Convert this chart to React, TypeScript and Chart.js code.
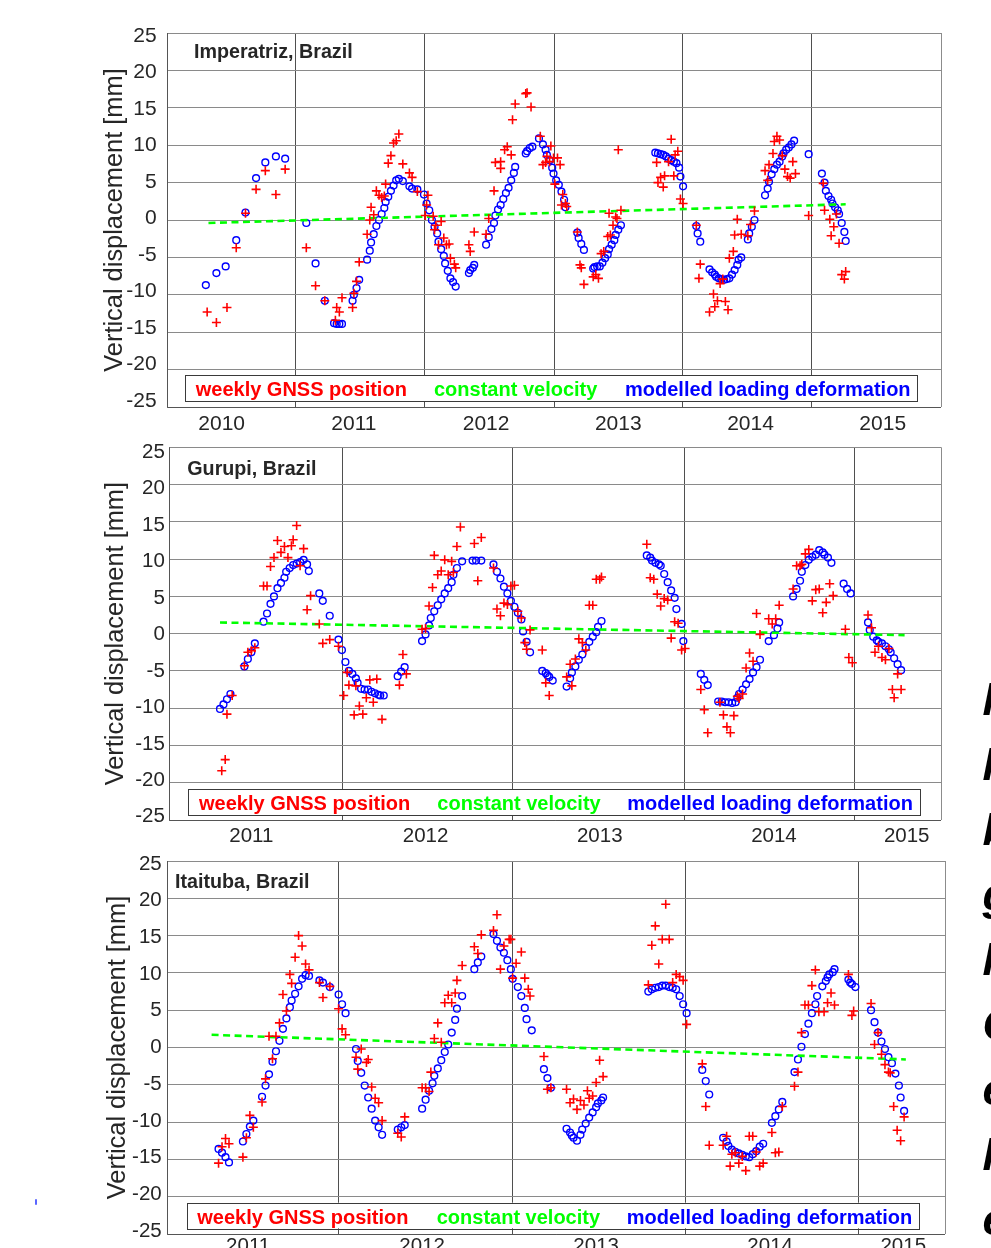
import React, { useEffect, useRef } from 'react';
import { Chart, registerables } from 'chart.js';

Chart.register(...registerables);

type Pt = [number, number];

// ---------------- Imperatriz ----------------
const impGnss: Pt[] = [
  [2009.89,-12.3],[2009.96,-13.7],[2010.04,-11.7],[2010.11,-3.7],[2010.18,0.9],[2010.26,4.1],[2010.33,6.6],[2010.41,3.4],[2010.48,6.8],
  [2010.64,-3.7],[2010.71,-8.8],[2010.78,-10.8],[2010.86,-13.4],[2010.87,-11.7],[2010.89,-12.3],[2010.91,-10.4],
  [2010.99,-11.7],[2011.00,-9.8],[2011.02,-8.2],[2011.04,-5.6],
  [2011.10,-1.9],[2011.12,0.0],[2011.13,1.7],[2011.15,0.7],[2011.17,3.9],[2011.19,3.3],[2011.21,3.0],[2011.23,3.2],[2011.24,4.8],[2011.26,7.6],[2011.28,8.6],[2011.30,10.3],[2011.32,10.6],[2011.34,11.5],[2011.37,7.5],[2011.42,6.3],[2011.44,5.7],[2011.48,3.8],[2011.54,0.6],[2011.55,2.0],[2011.56,3.3],[2011.60,0.5],[2011.61,-1.3],[2011.62,-0.7],[2011.64,-3.3],[2011.66,-0.2],[2011.68,-2.4],[2011.70,-3.3],[2011.72,-3.2],[2011.73,-5.1],[2011.76,-5.9],[2011.77,-6.4],
  [2011.87,-3.3],[2011.88,-4.2],[2011.91,-1.6],
  [2012.00,-1.9],[2012.02,0.2],[2012.06,3.9],[2012.07,7.7],[2012.11,7.8],[2012.11,6.9],[2012.14,9.4],[2012.16,9.8],[2012.19,8.7],[2012.20,13.4],[2012.22,15.5],
  [2012.30,16.9],[2012.31,17.0],[2012.34,15.1],[2012.41,11.2],[2012.43,7.4],[2012.45,7.7],[2012.46,8.5],[2012.48,7.8],[2012.49,9.9],[2012.51,8.3],[2012.52,4.8],[2012.54,8.3],[2012.56,7.4],[2012.57,2.0],[2012.58,3.4],[2012.60,2.2],[2012.61,1.8],
  [2012.69,-1.6],[2012.71,-6.0],[2012.72,-6.4],[2012.74,-8.6],
  [2012.81,-7.6],[2012.83,-7.3],[2012.85,-7.8],[2012.87,-4.5],[2012.89,-4.2],[2012.92,-2.2],[2012.93,0.9],[2012.94,-2.0],[2012.96,-0.7],[2012.98,0.4],[2012.99,0.2],[2013.00,9.4],[2013.02,1.3],
  [2013.29,7.7],[2013.30,5.0],[2013.32,5.7],[2013.34,4.4],[2013.35,5.9],[2013.38,7.8],[2013.40,10.8],[2013.42,5.9],[2013.43,8.7],[2013.45,9.2],[2013.47,2.8],[2013.49,2.2],
  [2013.59,-0.7],[2013.61,-7.8],[2013.62,-5.9],
  [2013.69,-12.3],[2013.72,-9.9],[2013.73,-11.6],[2013.75,-10.8],[2013.77,-8.5],[2013.79,-7.9],[2013.81,-10.9],[2013.83,-12.0],[2013.84,-5.1],[2013.87,-4.2],[2013.88,-2.0],[2013.90,0.1],[2013.93,-1.9],
  [2013.98,-2.1],[2014.00,-0.6],[2014.03,1.2],
  [2014.11,6.6],[2014.13,5.3],[2014.14,7.4],[2014.17,8.9],[2014.18,10.5],[2014.20,11.2],[2014.22,10.7],[2014.24,8.6],[2014.26,6.8],[2014.28,5.8],[2014.30,5.6],[2014.32,7.8],[2014.34,6.2],
  [2014.44,0.6],
  [2014.55,4.9],[2014.56,1.3],[2014.60,0.1],[2014.61,-2.1],[2014.63,-0.9],[2014.65,0.8],[2014.67,-3.1],[2014.69,-7.3],[2014.71,-7.9],[2014.72,-6.9],
];
const impModel: Pt[] = [
  [2009.88,-8.7],[2009.96,-7.1],[2010.03,-6.2],[2010.11,-2.7],[2010.18,1.0],[2010.26,5.6],[2010.33,7.7],[2010.41,8.5],[2010.48,8.2],
  [2010.64,-0.4],[2010.71,-5.8],[2010.78,-10.8],[2010.85,-13.8],[2010.87,-13.9],[2010.89,-13.9],[2010.91,-13.9],
  [2010.99,-10.8],[2011.00,-10.0],[2011.02,-9.1],[2011.04,-8.0],
  [2011.10,-5.3],[2011.12,-4.1],[2011.13,-3.0],[2011.15,-1.9],[2011.17,-0.8],[2011.19,0.0],[2011.21,0.8],[2011.23,1.6],[2011.24,2.4],[2011.26,3.1],[2011.28,3.9],[2011.30,4.6],[2011.32,5.3],[2011.34,5.5],[2011.37,5.2],[2011.42,4.5],[2011.44,4.2],[2011.48,4.1],[2011.53,3.4],[2011.55,2.2],[2011.57,1.3],[2011.59,0.0],[2011.61,-0.9],[2011.63,-1.8],[2011.64,-2.9],[2011.66,-3.9],[2011.68,-4.8],[2011.69,-5.8],[2011.71,-6.8],[2011.73,-7.8],[2011.75,-8.3],[2011.77,-8.9],
  [2011.87,-7.1],[2011.88,-6.7],[2011.90,-6.4],[2011.91,-6.0],
  [2012.00,-3.3],[2012.02,-2.3],[2012.04,-1.2],[2012.06,-0.4],[2012.07,0.6],[2012.09,1.4],[2012.11,2.0],[2012.13,2.8],[2012.15,3.6],[2012.17,4.3],[2012.19,5.3],[2012.21,6.3],[2012.22,7.1],
  [2012.30,8.9],[2012.31,9.2],[2012.33,9.6],[2012.35,9.8],[2012.40,10.9],[2012.43,10.1],[2012.45,9.4],[2012.46,8.7],[2012.48,8.0],[2012.50,7.0],[2012.51,6.2],[2012.53,5.3],[2012.55,4.7],[2012.57,3.8],[2012.59,2.7],[2012.60,1.7],
  [2012.69,-1.7],[2012.70,-2.4],[2012.72,-3.2],[2012.74,-4.0],
  [2012.81,-6.5],[2012.82,-6.3],[2012.84,-6.2],[2012.86,-6.2],[2012.88,-5.7],[2012.90,-5.1],[2012.92,-4.6],[2012.93,-3.9],[2012.95,-3.3],[2012.97,-2.7],[2012.98,-2.0],[2013.00,-1.3],[2013.02,-0.7],
  [2013.28,9.0],[2013.30,8.9],[2013.32,8.8],[2013.34,8.7],[2013.36,8.5],[2013.38,8.2],[2013.40,8.0],[2013.42,7.8],[2013.44,7.6],[2013.46,7.0],[2013.47,5.8],[2013.49,4.5],
  [2013.59,-0.8],[2013.60,-1.8],[2013.62,-2.9],
  [2013.69,-6.6],[2013.71,-7.0],[2013.73,-7.3],[2013.74,-7.6],[2013.76,-7.8],[2013.78,-7.9],[2013.80,-8.0],[2013.82,-7.9],[2013.84,-7.8],[2013.86,-7.3],[2013.88,-6.7],[2013.90,-6.0],[2013.91,-5.3],[2013.93,-5.0],
  [2013.98,-2.6],[2013.99,-1.8],[2014.01,-0.9],[2014.03,0.0],
  [2014.11,3.3],[2014.13,4.2],[2014.14,5.1],[2014.16,6.1],[2014.18,6.8],[2014.20,7.4],[2014.22,7.8],[2014.24,8.5],[2014.25,8.9],[2014.27,9.4],[2014.29,9.7],[2014.31,10.1],[2014.33,10.6],
  [2014.44,8.8],
  [2014.54,6.2],[2014.56,5.0],[2014.57,3.9],[2014.59,3.2],[2014.61,2.7],[2014.62,2.2],[2014.64,1.7],[2014.66,1.3],[2014.67,0.8],[2014.69,-0.4],[2014.71,-1.6],[2014.72,-2.8],
];
const impVelocity: Pt[] = [[2009.90,-0.4],[2014.72,2.1]];

// ---------------- Gurupi ----------------
const gurGnss: Pt[] = [
  [2010.83,-18.4],[2010.85,-16.9],[2010.86,-10.8],[2010.89,-8.3],
  [2010.96,-4.3],[2010.98,-2.5],[2011.00,-2.3],[2011.02,-1.9],
  [2011.07,6.4],[2011.09,6.4],[2011.11,9.0],[2011.13,10.2],[2011.15,12.5],[2011.17,10.9],[2011.19,11.7],[2011.21,10.2],[2011.23,11.8],[2011.24,12.6],[2011.26,14.5],[2011.28,9.1],[2011.30,11.4],[2011.32,3.2],[2011.34,5.1],
  [2011.39,1.3],[2011.41,-1.3],[2011.45,-0.8],
  [2011.50,-1.7],[2011.53,-8.3],[2011.55,-5.2],[2011.56,-6.9],[2011.59,-10.9],[2011.60,-7.0],[2011.62,-9.7],[2011.64,-10.8],[2011.66,-8.6],[2011.68,-6.2],[2011.70,-9.2],[2011.72,-6.1],[2011.75,-11.5],
  [2011.85,-6.9],[2011.87,-2.8],[2011.89,-5.4],
  [2011.98,0.6],[2012.00,0.7],[2012.02,3.7],[2012.04,6.2],[2012.05,10.5],[2012.07,7.9],[2012.09,8.4],[2012.11,9.9],[2012.13,7.9],[2012.15,9.7],[2012.16,8.2],[2012.18,11.7],[2012.20,14.3],
  [2012.28,12.1],[2012.30,7.1],[2012.32,12.9],
  [2012.39,8.8],[2012.41,3.3],[2012.43,2.4],[2012.45,4.1],[2012.47,3.9],[2012.49,6.4],[2012.51,6.5],[2012.53,3.0],[2012.55,2.1],[2012.57,-1.2],[2012.58,-2.1],[2012.60,0.5],
  [2012.67,-2.2],[2012.69,-6.6],[2012.71,-8.3],
  [2012.81,-5.8],[2012.83,-4.1],[2012.84,-7.0],[2012.86,-3.4],[2012.88,-0.7],[2012.90,-1.2],[2012.92,-2.2],[2012.94,3.8],[2012.96,3.8],[2012.98,7.3],[2013.00,7.3],[2013.01,7.6],
  [2013.27,12.0],[2013.29,7.5],[2013.31,7.3],[2013.33,5.3],[2013.35,3.7],[2013.37,4.7],[2013.39,4.5],[2013.41,-0.6],[2013.43,1.6],[2013.45,1.4],[2013.47,-2.2],[2013.49,-2.0],
  [2013.58,-7.5],[2013.60,-10.2],[2013.62,-13.3],
  [2013.69,-9.2],[2013.71,-10.9],[2013.73,-12.5],[2013.75,-13.3],[2013.77,-11.0],[2013.79,-8.4],[2013.80,-8.7],[2013.82,-8.1],[2013.84,-4.6],[2013.86,-2.6],[2013.88,-3.7],[2013.90,2.7],[2013.92,-0.1],
  [2013.97,2.0],[2013.99,1.3],[2014.01,2.0],[2014.03,3.8],
  [2014.11,6.0],[2014.13,9.1],[2014.15,9.1],[2014.16,9.3],[2014.18,10.7],[2014.20,11.3],[2014.22,4.4],[2014.24,5.9],[2014.26,6.0],[2014.28,2.8],[2014.30,4.2],[2014.32,6.7],[2014.34,5.1],
  [2014.41,0.6],[2014.43,-3.2],[2014.45,-3.9],
  [2014.54,2.5],[2014.56,0.8],[2014.58,-2.5],[2014.60,-1.7],[2014.62,-3.2],[2014.64,-3.5],[2014.66,-2.0],[2014.68,-7.5],[2014.69,-8.6],[2014.71,-5.4],[2014.73,-7.5],
];
const gurModel: Pt[] = [
  [2010.82,-10.1],[2010.84,-9.5],[2010.86,-8.8],[2010.88,-8.1],
  [2010.96,-4.4],[2010.98,-3.4],[2011.00,-2.5],[2011.02,-1.3],
  [2011.07,1.6],[2011.09,2.7],[2011.11,4.0],[2011.13,5.0],[2011.15,6.1],[2011.17,6.8],[2011.19,7.5],[2011.20,8.3],[2011.22,8.8],[2011.24,9.2],[2011.26,9.4],[2011.28,9.6],[2011.30,9.9],[2011.32,9.3],[2011.33,8.4],
  [2011.39,5.4],[2011.41,4.4],[2011.45,2.4],
  [2011.50,-0.8],[2011.52,-2.2],[2011.54,-3.8],[2011.56,-5.0],[2011.58,-5.4],[2011.60,-6.0],[2011.61,-6.6],[2011.63,-7.4],[2011.65,-7.5],[2011.67,-7.5],[2011.69,-7.8],[2011.71,-8.0],[2011.73,-8.2],[2011.74,-8.3],[2011.76,-8.3],
  [2011.84,-5.7],[2011.86,-5.1],[2011.88,-4.5],
  [2011.98,-1.0],[2012.00,-0.1],[2012.02,1.1],[2012.03,2.1],[2012.05,3.0],[2012.07,3.8],[2012.09,4.6],[2012.11,5.4],[2012.13,6.1],[2012.15,6.9],[2012.16,7.9],[2012.18,8.8],[2012.21,9.7],
  [2012.27,9.8],[2012.29,9.8],[2012.32,9.8],
  [2012.39,9.3],[2012.41,8.3],[2012.43,7.4],[2012.45,6.3],[2012.47,5.4],[2012.49,4.4],[2012.51,3.6],[2012.53,2.8],[2012.55,1.9],[2012.56,0.3],[2012.58,-1.1],[2012.60,-2.5],
  [2012.67,-5.0],[2012.69,-5.3],[2012.70,-5.6],[2012.71,-5.8],[2012.73,-6.3],
  [2012.81,-7.1],[2012.83,-6.0],[2012.84,-5.2],[2012.86,-4.4],[2012.88,-3.5],[2012.90,-2.8],[2012.92,-1.9],[2012.94,-1.1],[2012.96,-0.4],[2012.98,0.2],[2012.99,0.9],[2013.01,1.7],
  [2013.27,10.5],[2013.29,10.2],[2013.30,9.8],[2013.32,9.5],[2013.34,9.3],[2013.35,9.1],[2013.37,8.0],[2013.39,6.9],[2013.41,5.8],[2013.43,4.8],[2013.44,3.3],[2013.47,1.3],[2013.48,-1.0],
  [2013.58,-5.4],[2013.60,-6.2],[2013.62,-6.9],
  [2013.68,-9.1],[2013.70,-9.1],[2013.72,-9.2],[2013.74,-9.2],[2013.76,-9.3],[2013.78,-9.2],[2013.79,-8.6],[2013.80,-8.1],[2013.82,-7.5],[2013.84,-6.8],[2013.86,-6.1],[2013.88,-5.2],[2013.90,-4.5],[2013.92,-3.5],
  [2013.97,-1.0],[2014.00,-0.2],[2014.02,0.7],[2014.03,1.5],
  [2014.11,5.0],[2014.13,6.0],[2014.15,7.1],[2014.16,8.3],[2014.18,9.2],[2014.20,9.9],[2014.22,10.3],[2014.24,10.6],[2014.26,11.2],[2014.28,10.9],[2014.29,10.6],[2014.31,10.2],[2014.33,9.5],
  [2014.40,6.7],[2014.42,6.0],[2014.44,5.4],
  [2014.54,1.5],[2014.55,0.5],[2014.57,-0.4],[2014.59,-0.9],[2014.60,-1.1],[2014.62,-1.3],[2014.64,-1.7],[2014.66,-2.1],[2014.67,-2.5],[2014.69,-3.3],[2014.71,-4.1],[2014.73,-4.9],
];
const gurVelocity: Pt[] = [[2010.82,1.5],[2014.75,-0.2]];

// ---------------- Itaituba ----------------
const itaGnss: Pt[] = [
  [2010.83,-15.5],[2010.85,-13.3],[2010.87,-12.2],[2010.89,-12.9],
  [2010.97,-14.7],[2010.99,-12.1],[2011.01,-9.1],[2011.03,-10.7],
  [2011.08,-7.3],[2011.10,-4.2],[2011.12,1.5],[2011.14,-1.5],[2011.16,1.5],[2011.18,3.3],[2011.20,7.1],[2011.22,4.9],[2011.24,9.8],[2011.25,8.6],[2011.27,12.1],[2011.29,15.0],[2011.31,13.6],[2011.33,11.2],[2011.35,10.4],
  [2011.41,8.7],[2011.43,6.7],[2011.47,8.2],
  [2011.52,5.2],[2011.54,2.5],[2011.56,1.7],
  [2011.62,-1.3],[2011.63,-2.9],[2011.65,-0.2],[2011.68,-2.0],[2011.69,-1.6],[2011.71,-5.3],[2011.73,-6.8],[2011.75,-7.4],[2011.77,-9.8],
  [2011.86,-11.5],[2011.88,-12.0],[2011.90,-9.3],
  [2012.00,-5.4],[2012.02,-5.4],[2012.04,-5.9],[2012.05,-3.3],[2012.07,1.2],[2012.09,3.3],[2012.11,0.7],[2012.13,6.0],[2012.15,7.0],[2012.17,6.0],[2012.19,7.3],[2012.20,9.0],[2012.23,11.0],
  [2012.30,13.5],[2012.32,12.6],[2012.34,15.1],
  [2012.41,15.7],[2012.43,17.8],[2012.45,10.5],[2012.47,13.6],[2012.50,14.5],[2012.51,14.5],[2012.52,9.3],[2012.54,11.3],[2012.57,12.8],[2012.59,9.3],[2012.61,7.8],[2012.62,6.9],
  [2012.70,-1.2],[2012.72,-5.6],[2012.74,-5.4],
  [2012.83,-5.6],[2012.85,-7.4],[2012.87,-6.9],[2012.89,-8.3],[2012.91,-7.1],[2012.93,-7.7],[2012.95,-5.8],[2012.96,-6.8],[2012.98,-6.5],[2013.00,-4.7],[2013.02,-1.7],[2013.04,-3.9],
  [2013.30,8.4],[2013.32,13.7],[2013.34,16.3],[2013.36,11.2],[2013.38,14.5],[2013.40,19.2],[2013.42,14.5],[2013.44,8.7],[2013.46,9.8],[2013.48,9.5],[2013.50,9.0],[2013.52,3.1],
  [2013.61,-2.2],[2013.63,-7.9],[2013.65,-13.1],
  [2013.73,-13.1],[2013.75,-11.9],[2013.77,-15.9],[2013.78,-14.3],[2013.80,-14.1],[2013.82,-15.5],[2013.84,-14.6],[2013.86,-16.5],[2013.88,-11.9],[2013.90,-11.9],[2013.92,-14.0],[2013.94,-15.9],[2013.96,-15.5],
  [2014.01,-11.4],[2014.03,-14.1],[2014.05,-14.0],[2014.07,-7.9],
  [2014.14,-5.2],[2014.16,-3.3],[2014.18,2.0],[2014.20,5.7],[2014.22,5.7],[2014.24,8.3],[2014.26,10.4],[2014.28,4.8],[2014.31,4.8],[2014.33,6.0],[2014.35,7.3],[2014.37,5.7],
  [2014.45,9.8],[2014.47,4.3],[2014.48,4.9],
  [2014.58,5.9],[2014.60,0.4],[2014.62,2.0],[2014.64,-0.9],[2014.66,-2.3],[2014.68,-3.3],[2014.69,-3.4],[2014.71,-7.9],[2014.73,-11.1],[2014.75,-12.5],[2014.77,-9.3],
];
const itaModel: Pt[] = [
  [2010.83,-13.6],[2010.85,-14.1],[2010.87,-14.7],[2010.89,-15.4],
  [2010.97,-12.6],[2010.99,-11.6],[2011.01,-10.6],[2011.03,-9.8],
  [2011.08,-6.6],[2011.10,-5.1],[2011.12,-3.6],[2011.14,-1.9],[2011.16,-0.5],[2011.18,0.9],[2011.20,2.5],[2011.22,3.9],[2011.24,5.4],[2011.25,6.3],[2011.27,7.2],[2011.29,8.2],[2011.31,9.2],[2011.33,9.7],[2011.35,9.6],
  [2011.41,9.0],[2011.43,8.7],[2011.47,8.1],
  [2011.52,7.1],[2011.54,5.8],[2011.56,4.6],
  [2011.62,-0.2],[2011.63,-1.8],[2011.65,-3.4],[2011.67,-5.1],[2011.69,-6.7],[2011.71,-8.2],[2011.73,-9.8],[2011.75,-10.7],[2011.77,-11.7],
  [2011.86,-11.0],[2011.88,-10.7],[2011.90,-10.4],
  [2012.00,-8.2],[2012.02,-7.0],[2012.04,-5.8],[2012.06,-4.8],[2012.07,-3.8],[2012.09,-2.8],[2012.11,-1.7],[2012.13,-0.6],[2012.15,0.4],[2012.17,2.0],[2012.19,3.7],[2012.20,5.2],[2012.23,6.9],
  [2012.30,10.5],[2012.32,11.4],[2012.34,12.2],
  [2012.41,15.2],[2012.43,14.3],[2012.45,13.4],[2012.47,12.7],[2012.49,11.7],[2012.51,10.5],[2012.52,9.2],[2012.55,8.1],[2012.57,6.9],[2012.59,5.3],[2012.60,3.8],[2012.63,2.3],
  [2012.70,-2.9],[2012.72,-4.1],[2012.74,-5.4],
  [2012.83,-10.9],[2012.85,-11.4],[2012.86,-11.8],[2012.87,-12.1],[2012.89,-12.5],[2012.91,-11.7],[2012.92,-11.0],[2012.94,-10.2],[2012.96,-9.4],[2012.98,-8.7],[2013.00,-8.0],[2013.01,-7.5],[2013.03,-7.1],[2013.04,-6.7],
  [2013.30,7.5],[2013.32,7.8],[2013.34,8.0],[2013.36,8.1],[2013.38,8.3],[2013.40,8.3],[2013.42,8.1],[2013.44,8.0],[2013.46,7.8],[2013.48,6.9],[2013.50,5.8],[2013.52,4.6],
  [2013.61,-3.0],[2013.63,-4.5],[2013.65,-6.3],
  [2013.73,-12.1],[2013.75,-12.6],[2013.76,-13.2],[2013.78,-13.7],[2013.80,-14.0],[2013.82,-14.2],[2013.84,-14.4],[2013.86,-14.6],[2013.88,-14.7],[2013.90,-14.3],[2013.92,-13.9],[2013.94,-13.3],[2013.96,-12.9],
  [2014.01,-10.1],[2014.03,-9.2],[2014.05,-8.3],[2014.07,-7.3],
  [2014.14,-3.3],[2014.16,-1.6],[2014.18,0.1],[2014.20,1.8],[2014.22,3.2],[2014.24,4.6],[2014.26,5.8],[2014.27,6.9],[2014.30,8.2],[2014.32,8.9],[2014.33,9.4],[2014.34,9.8],[2014.36,10.1],[2014.37,10.5],
  [2014.45,9.1],[2014.46,8.7],[2014.47,8.5],[2014.49,8.1],
  [2014.58,5.0],[2014.60,3.4],[2014.62,2.0],[2014.64,0.8],[2014.66,-0.2],[2014.68,-1.3],[2014.70,-2.1],[2014.72,-3.5],[2014.74,-5.1],[2014.75,-6.7],[2014.77,-8.5],
];
const itaVelocity: Pt[] = [[2010.79,1.7],[2014.78,-1.6]];

// ---------------- axes ----------------
const impXRange: Pt = [2009.584, 2015.441];
const impGridYears = [2010.56, 2011.532, 2012.514, 2013.487, 2014.463];
const impTickPos = [2010, 2011, 2012, 2013, 2014, 2015];
const impTickLabels = ['2010', '2011', '2012', '2013', '2014', '2015'];

const gurXRange: Pt = [2010.529, 2014.959];
const gurGridYears = [2011.521, 2012.5, 2013.484, 2014.462];
const gurTickPos = [2011, 2012, 2013, 2014, 2014.762];
const gurTickLabels = ['2011', '2012', '2013', '2014', '2015'];

const itaXRange: Pt = [2010.532, 2015.005];
const itaGridYears = [2011.522, 2012.521, 2013.515, 2014.507];
const itaTickPos = [2011, 2012, 2013, 2014, 2014.765];
const itaTickLabels = ['2011', '2012', '2013', '2014', '2015'];

const yRange: Pt = [-25, 25];
const yGridValues = [25, 20, 15, 10, 5, 0, -5, -10, -15, -20, -25];
const yTickLabels = ['25', '20', '15', '10', '5', '0', '-5', '-10', '-15', '-20', '-25'];

const legendLabels = ['weekly GNSS position', 'constant velocity', 'modelled loading deformation'];
const yTitle = 'Vertical displacement [mm]';
const sideLetters = ['l', 'l', 'b', 'g', 'l', 'C', 'e', 'l', 'e'];

const FONT = '"Liberation Sans", Arial, Helvetica, sans-serif';
const RED = '#ff0000';
const GREEN = '#00ff00';
const BLUE = '#0000ff';
const TXT = '#262626';

interface Panel {
  station: string;
  gnss: Pt[]; model: Pt[]; vel: Pt[];
  xRange: Pt; gridYears: number[]; tickPos: number[]; tickLabels: string[];
  canvasTop: number; canvasHeight: number;
  plotLeft: number; plotRight: number; plotTop: number; plotBottom: number;
  tickFont: number; yTickPad: number; xTickPad: number; yTitleX: number;
  yLabelScale: number; yLabelShift: number;
  titleX: number; titleBase: number;
  legendBox: [number, number, number, number];
  legendX: [number, number, number]; legendBase: number;
}

const panels: Panel[] = [
  {
    station: 'Imperatriz, Brazil', gnss: impGnss, model: impModel, vel: impVelocity,
    xRange: impXRange, gridYears: impGridYears, tickPos: impTickPos, tickLabels: impTickLabels,
    canvasTop: 0, canvasHeight: 440,
    plotLeft: 166.7, plotRight: 941, plotTop: 33, plotBottom: 407,
    tickFont: 21, yTickPad: 10, xTickPad: 5, yTitleX: 115,
    yLabelScale: 0.977, yLabelShift: 0.2,
    titleX: 194, titleBase: 58.3,
    legendBox: [185, 375, 917, 401], legendX: [195.7, 434, 625], legendBase: 396,
  },
  {
    station: 'Gurupi, Brazil', gnss: gurGnss, model: gurModel, vel: gurVelocity,
    xRange: gurXRange, gridYears: gurGridYears, tickPos: gurTickPos, tickLabels: gurTickLabels,
    canvasTop: 418, canvasHeight: 435,
    plotLeft: 169.3, plotRight: 941, plotTop: 447.3, plotBottom: 820,
    tickFont: 20.5, yTickPad: 4.5, xTickPad: 4.5, yTitleX: 116,
    yLabelScale: 0.979, yLabelShift: -0.1,
    titleX: 187.3, titleBase: 475,
    legendBox: [188.3, 789.3, 920, 815], legendX: [199, 437.3, 627.3], legendBase: 810.3,
  },
  {
    station: 'Itaituba, Brazil', gnss: itaGnss, model: itaModel, vel: itaVelocity,
    xRange: itaXRange, gridYears: itaGridYears, tickPos: itaTickPos, tickLabels: itaTickLabels,
    canvasTop: 833, canvasHeight: 420,
    plotLeft: 166.7, plotRight: 945, plotTop: 861, plotBottom: 1234,
    tickFont: 20.5, yTickPad: 5, xTickPad: 0, yTitleX: 117.5,
    yLabelScale: 0.984, yLabelShift: 0,
    titleX: 175, titleBase: 888.3,
    legendBox: [187.3, 1202.7, 919, 1228.3], legendX: [197.3, 436.7, 626.7], legendBase: 1223.6,
  },
];

function makeChart(canvas: HTMLCanvasElement, p: Panel): Chart {
  const toXY = (a: Pt[]) => a.map(([x, y]) => ({ x, y }));
  const padTop = p.plotTop - p.canvasTop;
  const xlHeight = p.canvasHeight - (p.plotBottom - p.canvasTop);
  const legendColors = [RED, GREEN, BLUE];

  const deco = {
    id: 'deco' + p.station.replace(/\W/g, ''),
    afterDraw(chart: any) {
      const ctx: CanvasRenderingContext2D = chart.ctx;
      const a = chart.chartArea;
      const al = (v: number) => Math.round(v) + 0.5;
      ctx.save();
      ctx.lineWidth = 1;
      ctx.strokeStyle = '#8c8c8c';
      ctx.beginPath();
      ctx.moveTo(al(a.right), a.top);
      ctx.lineTo(al(a.right), a.bottom);
      ctx.stroke();
      ctx.strokeStyle = '#555555';
      ctx.beginPath();
      ctx.moveTo(al(a.left), a.top);
      ctx.lineTo(al(a.left), al(a.bottom));
      ctx.lineTo(a.right, al(a.bottom));
      ctx.stroke();
      ctx.fillStyle = TXT;
      ctx.font = 'bold 19.7px ' + FONT;
      ctx.textAlign = 'left';
      ctx.textBaseline = 'alphabetic';
      ctx.fillText(p.station, p.titleX, p.titleBase - p.canvasTop);
      const [l, t, r, b] = p.legendBox;
      const top = t - p.canvasTop;
      const bot = b - p.canvasTop;
      ctx.fillStyle = '#ffffff';
      ctx.fillRect(l, top, r - l, bot - top);
      ctx.strokeStyle = '#3a3a3a';
      ctx.lineWidth = 1;
      ctx.strokeRect(al(l), al(top), Math.round(r - l), Math.round(bot - top));
      ctx.font = 'bold 20px ' + FONT;
      legendLabels.forEach((txt, i) => {
        ctx.fillStyle = legendColors[i];
        ctx.fillText(txt, p.legendX[i], p.legendBase - p.canvasTop);
      });
      ctx.restore();
    },
  };

  return new Chart(canvas, {
    type: 'scatter',
    data: {
      datasets: [
        {
          label: legendLabels[0],
          data: toXY(p.gnss),
          pointStyle: 'cross',
          pointRadius: 4.5,
          pointBorderWidth: 1.6,
          pointBorderColor: RED,
          pointBackgroundColor: RED,
          borderColor: RED,
          showLine: false,
        },
        {
          label: legendLabels[1],
          data: toXY(p.vel),
          showLine: true,
          borderColor: GREEN,
          borderWidth: 2.6,
          borderDash: [7, 4.5],
          pointRadius: 0,
          fill: false,
        },
        {
          label: legendLabels[2],
          data: toXY(p.model),
          pointStyle: 'circle',
          pointRadius: 3.4,
          pointBorderWidth: 1.4,
          pointBorderColor: BLUE,
          pointBackgroundColor: 'rgba(0,0,0,0)',
          borderColor: BLUE,
          showLine: false,
        },
      ] as any,
    },
    options: {
      responsive: false,
      animation: false,
      events: [],
      layout: { padding: { left: 0, top: padTop, right: 991 - p.plotRight, bottom: 0 } },
      plugins: { legend: { display: false }, tooltip: { enabled: false }, title: { display: false } },
      scales: {
        x: {
          type: 'linear', position: 'bottom', min: p.xRange[0], max: p.xRange[1], bounds: 'data',
          grid: { color: '#4f4f4f', lineWidth: 1, drawTicks: false },
          border: { display: false },
          ticks: { display: false },
          afterBuildTicks: (s: any) => { s.ticks = p.gridYears.map((v) => ({ value: v })); },
          afterFit: (s: any) => { s.height = 0; },
        },
        xl: {
          type: 'linear', position: 'bottom', min: p.xRange[0], max: p.xRange[1], bounds: 'data',
          grid: { display: false, drawTicks: false },
          border: { display: false },
          ticks: {
            autoSkip: false, maxRotation: 0, minRotation: 0, padding: p.xTickPad,
            font: { size: p.tickFont, family: FONT }, color: TXT,
            callback: (_v: any, i: number) => p.tickLabels[i],
          },
          afterBuildTicks: (s: any) => { s.ticks = p.tickPos.map((v) => ({ value: v })); },
          afterFit: (s: any) => { s.height = xlHeight; },
        },
        y: {
          type: 'linear', position: 'left', min: yRange[0], max: yRange[1],
          grid: { color: '#8a8a8a', lineWidth: 1, drawTicks: false },
          border: { display: false },
          ticks: { display: false },
          afterBuildTicks: (s: any) => { s.ticks = yGridValues.map((v) => ({ value: v })); },
          afterFit: (s: any) => { s.width = 0; },
        },
        yl: {
          type: 'linear', position: 'left', min: yRange[0], max: yRange[1],
          grid: { display: false, drawTicks: false },
          border: { display: false },
          ticks: {
            autoSkip: false, padding: p.yTickPad, font: { size: p.tickFont, family: FONT }, color: TXT,
            callback: (_v: any, i: number) => yTickLabels[i],
          },
          afterBuildTicks: (s: any) => {
            s.ticks = yGridValues.map((v) => ({ value: v * p.yLabelScale + p.yLabelShift }));
          },
          title: {
            display: true, text: yTitle, color: TXT,
            font: { size: 25.4, family: FONT, lineHeight: 1.2 },
            padding: { top: p.yTitleX - 15.24, bottom: 0 },
          },
          afterFit: (s: any) => { s.width = p.plotLeft; },
        },
      } as any,
    },
    plugins: [deco],
  } as any);
}

export default function App() {
  const r0 = useRef<HTMLCanvasElement>(null);
  const r1 = useRef<HTMLCanvasElement>(null);
  const r2 = useRef<HTMLCanvasElement>(null);

  useEffect(() => {
    Chart.defaults.font.family = FONT;
    const refs = [r0, r1, r2];
    const charts = panels.map((p, i) => makeChart(refs[i].current as HTMLCanvasElement, p));
    return () => charts.forEach((c) => c.destroy());
  }, []);

  const refs = [r0, r1, r2];
  return (
    <div style={{ position: 'absolute', left: 0, top: 0, width: 991, height: 1248, overflow: 'hidden', background: '#fff' }}>
      {panels.map((p, i) => (
        <canvas
          key={p.station}
          ref={refs[i]}
          width={991}
          height={p.canvasHeight}
          style={{ position: 'absolute', left: 0, top: p.canvasTop }}
        />
      ))}
      <div
        style={{
          position: 'absolute', left: 982.5, top: 667, fontFamily: FONT, fontWeight: 'bold',
          fontStyle: 'italic', fontSize: 45, lineHeight: '65px', color: '#000', whiteSpace: 'pre',
        }}
      >
        {sideLetters.map((c, i) => (<div key={i}>{c}</div>))}
      </div>
      <div style={{ position: 'absolute', left: 34.5, top: 1199, width: 2.5, height: 6, background: '#5a66ff', borderRadius: 1 }} />
    </div>
  );
}
